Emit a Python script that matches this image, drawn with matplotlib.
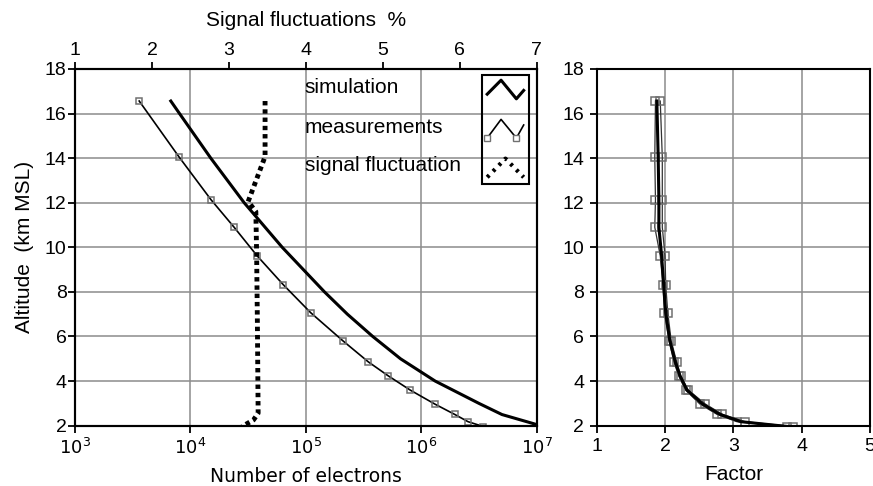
import numpy as np
import matplotlib
matplotlib.use("Agg")
import matplotlib.pyplot as plt
from matplotlib.legend_handler import HandlerBase
from matplotlib.lines import Line2D
from matplotlib.ticker import NullLocator, FixedLocator

plt.rcParams['font.family'] = ['Liberation Sans', 'DejaVu Sans']
plt.rcParams['mathtext.fontset'] = 'dejavusans'

# ---------------- data ----------------
altitude = [16.56, 14.04, 12.13, 10.9, 9.62, 8.32, 7.07, 5.81, 4.86, 4.23, 3.6, 2.97, 2.51, 2.18, 1.96]
meas_electrons = [3.6e3, 8.0e3, 1.51e4, 2.39e4, 3.78e4, 6.38e4, 1.10e5, 2.09e5, 3.48e5,
                  5.19e5, 8.0e5, 1.31e6, 1.94e6, 2.54e6, 3.45e6]
sim_altitude = [16.56, 16, 14, 12, 10, 8, 7, 6, 5, 4, 3, 2.5, 2.05, 1.95]
sim_electrons = [6.76e3, 8.04e3, 1.50e4, 2.92e4, 6.24e4, 1.45e5, 2.29e5, 3.80e5, 6.61e5,
                 1.32e6, 3.16e6, 5.0e6, 1.0e7, 1.1e7]
fluct_altitude = [16.56, 14.07, 12.05, 11.6, 9.8, 6.66, 2.56, 2.26, 1.96]
signal_fluct = [3.47, 3.47, 3.25, 3.35, 3.36, 3.37, 3.38, 3.32, 3.17]
factor_mid = [1.88, 1.90, 1.91, 1.91, 1.95, 1.98, 2.01, 2.07, 2.15, 2.22, 2.32, 2.55, 2.80, 3.11, 3.80]
factor_low = [1.86, 1.85, 1.86, 1.85, 1.93, 1.97, 1.99, 2.06, 2.13, 2.20, 2.30, 2.51, 2.76, 3.05, 3.78]
factor_high = [1.93, 1.96, 1.96, 1.96, 2.00, 2.01, 2.04, 2.09, 2.17, 2.23, 2.34, 2.59, 2.84, 3.17, 3.88]

alt_ticks = [2, 4, 6, 8, 10, 12, 14, 16, 18]
electron_ticks = [1e3, 1e4, 1e5, 1e6, 1e7]
electron_labels = ['$10^{3}$', '$10^{4}$', '$10^{5}$', '$10^{6}$', '$10^{7}$']
fluct_ticks = [1, 2, 3, 4, 5, 6, 7]
factor_ticks = [1, 2, 3, 4, 5]
legend_labels = ['simulation', 'measurements', 'signal fluctuation']

GRID = '#8c8c8c'
MK = '#707070'


class ZigZag(HandlerBase):
    def __init__(self, xs, ys, lw=None, ls=None, markers_at=None):
        super().__init__()
        self.xs, self.ys, self.lw, self.ls, self.markers_at = xs, ys, lw, ls, markers_at

    def create_artists(self, legend, orig, xd, yd, w, h, fs, trans):
        x = np.array(self.xs) * w - xd
        y = np.array(self.ys) * h - yd
        ln = Line2D(x, y, color=orig.get_color(),
                    lw=self.lw if self.lw else orig.get_linewidth(),
                    linestyle=self.ls if self.ls else orig.get_linestyle(), transform=trans)
        arts = [ln]
        if self.markers_at is not None:
            mk = Line2D(x[self.markers_at], y[self.markers_at], ls='none', marker='s',
                        ms=4, mfc='white', mec=MK, mew=1.0, transform=trans)
            arts.append(mk)
        return arts


fig = plt.figure(figsize=(8.73, 4.86), dpi=100)
ax = fig.add_axes([0.0859, 0.1241, 0.5289, 0.7341])
ax2 = fig.add_axes([0.6835, 0.1241, 0.3131, 0.7341])

# ---- left panel ----
ax.set_xscale('log')
ax.set_xlim(1e3, 1e7)
ax.set_ylim(2, 18)
ax.grid(True, color=GRID, lw=1.1)
ax.set_axisbelow(True)
ax.xaxis.set_major_locator(FixedLocator(electron_ticks))
ax.set_xticklabels(electron_labels, fontfamily='DejaVu Sans', fontsize=13)
ax.xaxis.set_minor_locator(NullLocator())
ax.set_yticks(alt_ticks)
ax.tick_params(axis='y', labelsize=14, length=5, width=1.3, pad=1)
ax.tick_params(axis='x', length=5, width=1.3, pad=4)
ax.set_xlabel('Number of electrons', fontfamily='DejaVu Sans', fontsize=13.5, labelpad=6)
ax.set_ylabel('Altitude  (km MSL)', fontsize=15, labelpad=8)

sim_line, = ax.plot(sim_electrons, sim_altitude, color='black', lw=2.2)
meas_line, = ax.plot(meas_electrons, altitude, color='black', lw=1.2, marker='s', ms=5,
                     mfc='none', mec=MK, mew=1.1)

axt = ax.twiny()
axt.set_xlim(1, 7)
axt.set_xticks(fluct_ticks)
axt.tick_params(axis='x', labelsize=14, length=5, width=1.3, pad=2)
axt.set_xlabel('Signal fluctuations  %', fontsize=15, labelpad=12)
sig_line, = axt.plot(signal_fluct, fluct_altitude, color='black', lw=3.5, linestyle=(0, (0.9, 0.8)))
axt.set_ylim(2, 18)

for a in (ax, axt, ax2):
    for s in a.spines.values():
        s.set_linewidth(1.5)

leg = ax.legend([sim_line, meas_line, sig_line], ['', '', ''],
                handler_map={sim_line: ZigZag([0, 0.38, 0.8, 1.0], [0.25, 1.0, 0.0, 0.45]),
                             meas_line: ZigZag([0, 0.38, 0.8, 1.0], [0.0, 1.0, 0.0, 0.7], markers_at=[0, 2]),
                             sig_line: ZigZag([0, 0.5, 1.0], [0.0, 1.0, 0.0], lw=3.0, ls=(0, (0.7, 1.3)))},
                loc='upper right', bbox_to_anchor=(0.983, 0.983), borderaxespad=0,
                fontsize=15, handlelength=1.75, handleheight=1.0, handletextpad=0,
                labelspacing=0.9, borderpad=0.25, fancybox=False, framealpha=1)
leg.get_frame().set_edgecolor('black')
leg.get_frame().set_linewidth(1.5)
leg.get_frame().set_facecolor('none')

for lab, yy in zip(legend_labels, [0.949, 0.837, 0.728]):
    ax.text(0.498, yy, lab, transform=ax.transAxes, fontsize=15, va='center', ha='left')

# ---- right panel ----
ax2.set_xlim(1, 5)
ax2.set_ylim(2, 18)
ax2.set_xticks(factor_ticks)
ax2.set_yticks(alt_ticks)
ax2.grid(True, color=GRID, lw=1.1)
ax2.set_axisbelow(True)
ax2.tick_params(labelsize=14, length=5, width=1.3, pad=4)
ax2.set_xlabel('Factor', fontsize=15, labelpad=7)
ax2.plot(factor_low, altitude, color='#333333', lw=0.9, marker='s', ms=6, mfc='none', mec=MK, mew=1.1)
ax2.plot(factor_high, altitude, color='#333333', lw=0.9, marker='s', ms=6, mfc='none', mec=MK, mew=1.1)
ax2.plot(factor_mid, altitude, color='black', lw=2.2)

fig.savefig('out.png', dpi=100)
